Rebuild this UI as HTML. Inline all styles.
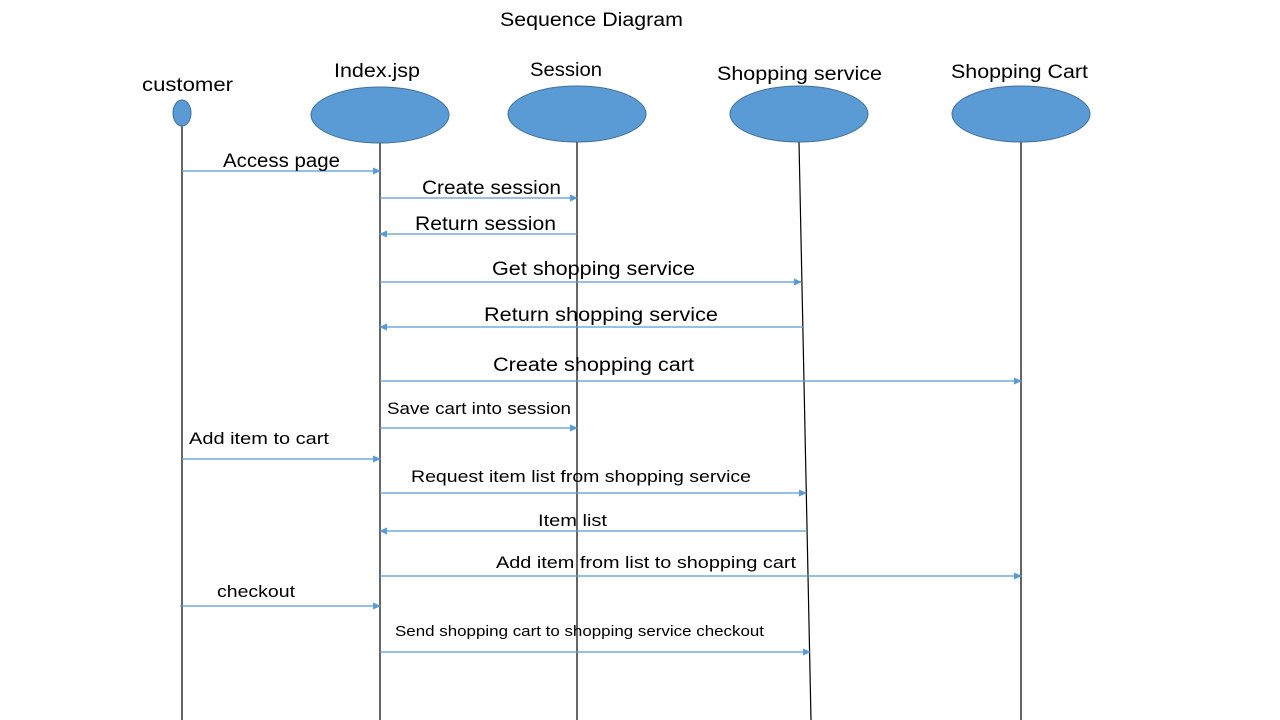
<!DOCTYPE html>
<html><head><meta charset="utf-8"><style>html,body{margin:0;padding:0;background:#fff}svg{display:block}</style></head>
<body>
<svg width="1280" height="720" xmlns="http://www.w3.org/2000/svg" font-family="Liberation Sans, sans-serif" fill="#000">
<defs><marker id="a" markerWidth="8" markerHeight="8" refX="7" refY="4" orient="auto" markerUnits="userSpaceOnUse"><path d="M0,0.5 L8,4 L0,7.5 Z" fill="#5b9bd5"/></marker></defs>
<g stroke="#000" stroke-width="1.2">
<line x1="182" y1="126" x2="182" y2="720"/>
<line x1="380" y1="143" x2="380" y2="720"/>
<line x1="577" y1="142" x2="577" y2="720"/>
<line x1="799" y1="142" x2="811" y2="720"/>
<line x1="1021" y1="142" x2="1021" y2="720"/>
</g>
<g fill="#5b9bd5" stroke="#41719c" stroke-width="1">
<ellipse cx="182" cy="113" rx="9" ry="13"/>
<ellipse cx="380" cy="115" rx="69" ry="28"/>
<ellipse cx="577" cy="114" rx="69" ry="28"/>
<ellipse cx="799" cy="114" rx="69" ry="28"/>
<ellipse cx="1021" cy="114" rx="69" ry="28"/>
</g>
<g stroke="#5b9bd5" stroke-width="1.2" marker-end="url(#a)">
<line x1="182" y1="171" x2="380" y2="171"/>
<line x1="380" y1="198" x2="577" y2="198"/>
<line x1="577" y1="234" x2="380" y2="234"/>
<line x1="380" y1="282" x2="801" y2="282"/>
<line x1="803" y1="327" x2="380" y2="327"/>
<line x1="380" y1="381" x2="1021" y2="381"/>
<line x1="380" y1="428" x2="577" y2="428"/>
<line x1="182" y1="459" x2="380" y2="459"/>
<line x1="380" y1="493" x2="806" y2="493"/>
<line x1="807" y1="531" x2="380" y2="531"/>
<line x1="380" y1="576" x2="1021" y2="576"/>
<line x1="180" y1="606" x2="380" y2="606"/>
<line x1="380" y1="652" x2="810" y2="652"/>
</g>
<g font-size="19" lengthAdjust="spacingAndGlyphs">
<text x="500" y="26" textLength="183" lengthAdjust="spacingAndGlyphs">Sequence Diagram</text>
<text x="142" y="91" textLength="91" lengthAdjust="spacingAndGlyphs">customer</text>
<text x="334" y="77" textLength="86" lengthAdjust="spacingAndGlyphs">Index.jsp</text>
<text x="530" y="76" textLength="72" lengthAdjust="spacingAndGlyphs">Session</text>
<text x="717" y="80" textLength="165" lengthAdjust="spacingAndGlyphs">Shopping service</text>
<text x="951" y="78" textLength="137" lengthAdjust="spacingAndGlyphs">Shopping Cart</text>
<text x="223" y="167" textLength="117" lengthAdjust="spacingAndGlyphs">Access page</text>
<text x="422" y="194" textLength="139" lengthAdjust="spacingAndGlyphs">Create session</text>
<text x="415" y="230" textLength="141" lengthAdjust="spacingAndGlyphs">Return session</text>
<text x="492" y="275" textLength="203" lengthAdjust="spacingAndGlyphs">Get shopping service</text>
<text x="484" y="321" textLength="234" lengthAdjust="spacingAndGlyphs">Return shopping service</text>
<text x="493" y="371" textLength="201" lengthAdjust="spacingAndGlyphs">Create shopping cart</text>
</g>
<g font-size="17">
<text x="387" y="414" textLength="184" lengthAdjust="spacingAndGlyphs">Save cart into session</text>
<text x="189" y="444" textLength="140" lengthAdjust="spacingAndGlyphs">Add item to cart</text>
<text x="411" y="482" textLength="340" lengthAdjust="spacingAndGlyphs">Request item list from shopping service</text>
<text x="538" y="526" textLength="69" lengthAdjust="spacingAndGlyphs">Item list</text>
<text x="496" y="568" textLength="300" lengthAdjust="spacingAndGlyphs">Add item from list to shopping cart</text>
<text x="217" y="597" textLength="78" lengthAdjust="spacingAndGlyphs">checkout</text>
<text x="395" y="636" font-size="15" textLength="369" lengthAdjust="spacingAndGlyphs">Send shopping cart to shopping service checkout</text>
</g>
</svg>
</body></html>
